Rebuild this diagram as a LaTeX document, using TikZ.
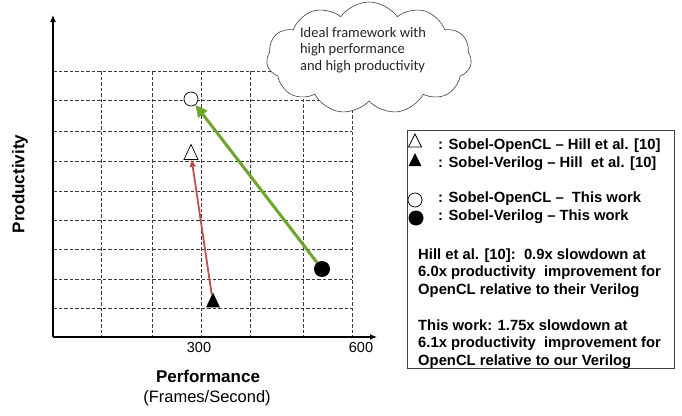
\documentclass[tikz,border=0pt]{standalone}
\usepackage{fontspec}
\setmainfont{Liberation Sans}
\newfontfamily\cloudfont{Carlito}
\usetikzlibrary{shapes.geometric,shapes.symbols,arrows.meta}

\definecolor{arrowgreen}{HTML}{6FA52B}
\definecolor{arrowred}{HTML}{C0504D}
\definecolor{gridgray}{HTML}{3A3A3A}
\definecolor{boxgray}{HTML}{404040}

\begin{document}
\begin{tikzpicture}[x=1pt,y=-1pt,
  gridline/.style={draw=gridgray, line width=0.9pt, dash pattern=on 3.5pt off 2pt},
  axisline/.style={line width=1.2pt, -{Latex[length=7pt,width=6pt]}},
  opencirc/.style={circle, draw, line width=0.7pt, fill=white, minimum size=14pt, inner sep=0pt},
  fullcirc/.style={circle, fill=black, minimum size=16pt, inner sep=0pt},
  tribase/.style={isosceles triangle, isosceles triangle apex angle=50,
    isosceles triangle stretches, shape border rotate=90, inner sep=0pt,
    minimum width=14pt, minimum height=15pt},
  opentri/.style={tribase, draw, line width=0.7pt, fill=white},
  fulltri/.style={tribase, fill=black},
  ticklabel/.style={inner sep=0pt, font=\fontsize{14.5}{17}\selectfont},
  legtext/.style={anchor=base west, inner sep=0pt, font=\bfseries\fontsize{14.8}{17}\selectfont},
]
\useasboundingbox (0,0) rectangle (682,415);

% dashed grid
\foreach \y in {71,100,131,161,191,220,249,279,308}
  \draw[gridline] (53,\y) -- (352,\y);
\foreach \x in {101,152,201,250,303,352}
  \draw[gridline] (\x,71) -- (\x,337);

% axes
\coordinate (origin) at (53,337);
\coordinate (ytip) at (53,15);
\coordinate (xtip) at (377,337);
\draw[axisline] (origin) -- (ytip);
\draw[axisline] (origin) -- (xtip);

% axis labels
\node[ticklabel] (t300) at (199,348) {300};
\node[ticklabel] (t600) at (361,348) {600};
\node[inner sep=0pt, font=\bfseries\fontsize{17}{20}\selectfont] (perf) at (208,376) {Performance};
\node[inner sep=0pt, font=\fontsize{16.5}{20}\selectfont] (fps) at (207,398) {(Frames/Second)};
\node[inner sep=0pt, rotate=90, font=\bfseries\fontsize{17}{20}\selectfont] (prod) at (20,184) {Productivity};

% ideal-framework cloud
\node[cloud, cloud puffs=11, cloud puff arc=110, aspect=1.8, draw=boxgray, fill=white,
  line width=0.6pt, minimum width=205pt, minimum height=112pt, inner sep=0pt] (cloud) at (369,58) {};
\node[align=left, inner sep=0pt, text=black!85, font=\cloudfont\fontsize{14.5}{16.5}\selectfont]
  (idealtxt) at (363,50) {Ideal framework with\\high performance\\and high productivity};

% data points
\node[opencirc] (oclThis) at (191,99) {};
\node[opentri] (oclHill) at (191,155) {};
\node[fulltri] (vlgHill) at (213,303) {};
\node[fullcirc] (vlgThis) at (322,269) {};

% Verilog -> OpenCL transitions
\draw[line width=3pt, arrowgreen, -{Triangle[length=12pt,width=11pt]}] (vlgThis) -- (oclThis);
\draw[line width=1.8pt, arrowred, -{Triangle[length=7pt,width=6pt]}] (vlgHill) -- (oclHill);

% legend
\node[draw=boxgray, line width=0.8pt, minimum width=267pt, minimum height=238pt,
  anchor=north west, inner sep=0pt] (legend) at (407,130) {};
\node[opentri, minimum width=13pt, minimum height=13pt] (lgOclHill) at (415,143) {};
\node[fulltri, minimum width=13pt, minimum height=13pt] (lgVlgHill) at (415,162) {};
\node[opencirc, minimum size=14pt] (lgOclThis) at (415,200) {};
\node[fullcirc, minimum size=15pt] (lgVlgThis) at (416,218) {};
\node[legtext] (l1) at (438,149) {: Sobel-OpenCL – Hill et al. [10]};
\node[legtext] (l2) at (438,167) {: Sobel-Verilog – Hill\ \ et al. [10]};
\node[legtext] (l3) at (438,202) {: Sobel-OpenCL – \ This work};
\node[legtext] (l4) at (438,220) {: Sobel-Verilog – This work};
\node[legtext] (l5) at (418,259) {Hill et al. [10]:\ \ 0.9x slowdown at};
\node[legtext] (l6) at (418,276) {6.0x productivity\ \ improvement for};
\node[legtext] (l7) at (418,294) {OpenCL relative to their Verilog};
\node[legtext] (l8) at (418,330) {This work: 1.75x slowdown at};
\node[legtext] (l9) at (418,347) {6.1x productivity\ \ improvement for};
\node[legtext] (l10) at (418,365) {OpenCL relative to our Verilog};
\end{tikzpicture}
\end{document}
